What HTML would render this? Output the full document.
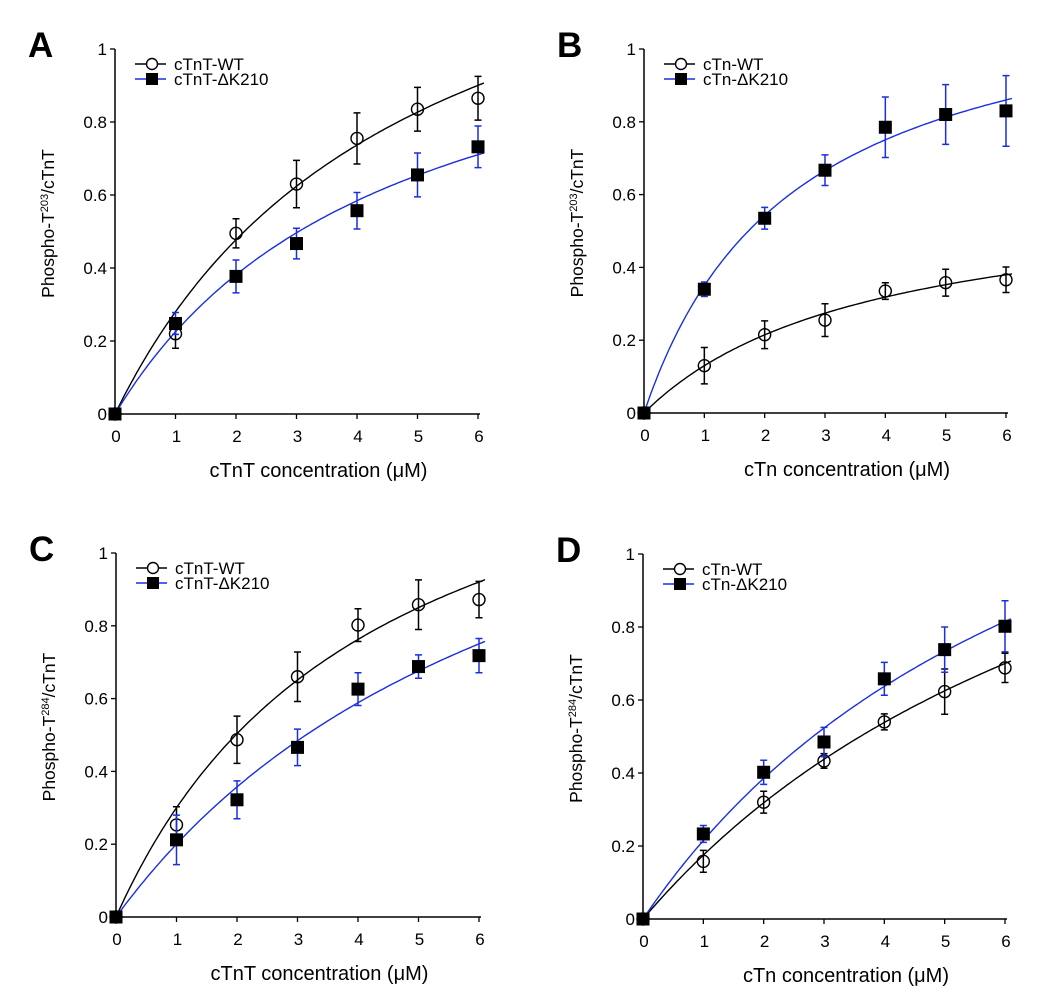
<!DOCTYPE html>
<html><head><meta charset="utf-8"><style>
body{margin:0;background:#fff}
svg{display:block;font-family:"Liberation Sans",Arial,sans-serif}
</style></head><body>
<svg id="fig" width="1050" height="1004" viewBox="0 0 1050 1004"></svg>
<script>
const xTicks=[0,1,2,3,4,5,6];
const yTicks=[0,0.2,0.4,0.6,0.8,1];
const yTickLabels=["0","0.2","0.4","0.6","0.8","1"];
const concentrations=[0,1,2,3,4,5,6];
// panel A
const aWT=[0,0.22,0.495,0.63,0.755,0.835,0.865];
const aWTerr=[0,0.04,0.04,0.065,0.07,0.06,0.06];
const aMut=[0,0.248,0.377,0.467,0.557,0.655,0.732];
const aMutErr=[0,0.03,0.045,0.042,0.05,0.06,0.057];
const aFitWT=[1.616,4.77]; const aFitMut=[1.249,4.55];
// panel B
const bWT=[0,0.13,0.215,0.255,0.335,0.358,0.366];
const bWTerr=[0,0.05,0.038,0.045,0.023,0.037,0.035];
const bMut=[0,0.34,0.535,0.667,0.785,0.82,0.83];
const bMutErr=[0,0.02,0.03,0.042,0.083,0.082,0.097];
const bFitWT=[0.617,3.75]; const bFitMut=[1.214,2.47];
// panel C
const cWT=[0,0.253,0.487,0.66,0.802,0.858,0.872];
const cWTerr=[0,0.05,0.065,0.068,0.045,0.068,0.05];
const cMut=[0,0.212,0.322,0.466,0.626,0.688,0.718];
const cMutErr=[0,0.068,0.052,0.05,0.045,0.032,0.047];
const cFitWT=[1.569,4.23]; const cFitMut=[1.667,7.33];
// panel D
const dWT=[0,0.158,0.32,0.433,0.54,0.623,0.688];
const dWTerr=[0,0.03,0.03,0.02,0.022,0.062,0.04];
const dMut=[0,0.233,0.402,0.485,0.658,0.738,0.802];
const dMutErr=[0,0.023,0.033,0.04,0.045,0.062,0.07];
const dFitWT=[1.75,9]; const dFitMut=[1.845,7.58];

const NS="http://www.w3.org/2000/svg";
const svg=document.getElementById('fig');
function mk(tag,attrs,parent,text){const e=document.createElementNS(NS,tag);for(const k in attrs)e.setAttribute(k,attrs[k]);if(text!==undefined)e.textContent=text;(parent||svg).appendChild(e);return e;}

const panels=[
 {id:'a',letter:'A',x0:115,x6:478,y0:414,y1:49,xt:'cTnT concentration (',sup:'203',leg:['cTnT-WT','cTnT-\u0394K210'],wt:aWT,we:aWTerr,mu:aMut,me:aMutErr,fw:aFitWT,fm:aFitMut},
 {id:'b',letter:'B',x0:644,x6:1006,y0:413,y1:49,xt:'cTn concentration (',sup:'203',leg:['cTn-WT','cTn-\u0394K210'],wt:bWT,we:bWTerr,mu:bMut,me:bMutErr,fw:bFitWT,fm:bFitMut},
 {id:'c',letter:'C',x0:116,x6:479,y0:917,y1:553,xt:'cTnT concentration (',sup:'284',leg:['cTnT-WT','cTnT-\u0394K210'],wt:cWT,we:cWTerr,mu:cMut,me:cMutErr,fw:cFitWT,fm:cFitMut},
 {id:'d',letter:'D',x0:643,x6:1005,y0:919,y1:554,xt:'cTn concentration (',sup:'284',leg:['cTn-WT','cTn-\u0394K210'],wt:dWT,we:dWTerr,mu:dMut,me:dMutErr,fw:dFitWT,fm:dFitMut}
];

panels.forEach(p=>{
 const g=mk('g',{});
 
 
 const X=v=>p.x0+(p.x6-p.x0)*v/6;
 const Y=v=>p.y0-(p.y0-p.y1)*v;
 const L=mk('text',{x:p.x0-87,y:p.y1+8,'font-size':35,'font-weight':'bold'},g,p.letter);
 
 
 const ax=mk('path',{d:`M${p.x0},${p.y1}V${p.y0}H${p.x6+2}`,stroke:'#000','stroke-width':1.5,fill:'none'},g);
 
 
 xTicks.forEach(t=>{
  mk('line',{x1:X(t),x2:X(t),y1:p.y0,y2:p.y0+5,stroke:'#000','stroke-width':1.3},g);
  const tl=mk('text',{x:X(t)+1,y:p.y0+28,'font-size':17,'text-anchor':'middle'},g,String(t));
  
  
 });
 yTicks.forEach((t,i)=>{
  mk('line',{x1:p.x0-5,x2:p.x0,y1:Y(t),y2:Y(t),stroke:'#000','stroke-width':1.3},g);
  const tl=mk('text',{x:p.x0-8,y:Y(t)+6,'font-size':17,'text-anchor':'end'},g,yTickLabels[i]);
  
  
 });
 const xt=mk('text',{x:(p.x0+p.x6)/2+22,y:p.y0+63,'font-size':20,'text-anchor':'middle'},g);
 
 
 xt.textContent=p.xt+'\u03bcM)';
 const yt=mk('text',{transform:`translate(${p.x0-61},${(p.y0+p.y1)/2-8}) rotate(-90)`,'font-size':17.5,'text-anchor':'middle'},g);
 
 
 mk('tspan',{},yt,'Phospho-T');
 mk('tspan',{'font-size':11,dy:-6},yt,p.sup);
 mk('tspan',{dy:6},yt,'/cTnT');
 const series=[
  {name:'wt',vals:p.wt,err:p.we,fit:p.fw,color:'#000',open:true,label:p.leg[0]},
  {name:'mutant',vals:p.mu,err:p.me,fit:p.fm,color:'#1a2fe0',open:false,label:p.leg[1]}
 ];
 series.forEach((s,si)=>{
  let d='';
  for(let i=0;i<=120;i++){const x=6.1*i/120;const y=s.fit[0]*x/(s.fit[1]+x);d+=(i?'L':'M')+X(x).toFixed(1)+','+Y(y).toFixed(1);}
  const c=mk('path',{d,stroke:s.color,'stroke-width':1.4,fill:'none'},g);
  
  
 });
 series.forEach(s=>{
  concentrations.forEach((cx,i)=>{
   const v=s.vals[i],e=s.err[i],px=X(cx),py=Y(v);
   if(e>0){
    const eb=mk('path',{d:`M${px},${Y(v+e)}V${Y(v-e)}M${px-3.5},${Y(v+e)}h7M${px-3.5},${Y(v-e)}h7`,stroke:s.color,'stroke-width':1.5,fill:'none'},g);
    
    
   }
   let m;
   if(s.open) m=mk('circle',{cx:px,cy:py,r:6,fill:'none',stroke:'#000','stroke-width':1.4},g);
   else m=mk('rect',{x:px-6.5,y:py-6.5,width:13,height:13,fill:'#000'},g);
   
   
  });
 });
 series.forEach((s,si)=>{
  const ly=p.y1+15+si*15, lx=p.x0+20;
  const lg=mk('g',{},g);
  
  
  mk('line',{x1:lx,x2:lx+31,y1:ly,y2:ly,stroke:s.color,'stroke-width':1.4},lg);
  if(s.open) mk('circle',{cx:lx+17,cy:ly,r:5.5,fill:'#fff',stroke:'#000','stroke-width':1.4},lg);
  else mk('rect',{x:lx+11,y:ly-6,width:12,height:12,fill:'#000'},lg);
  mk('text',{x:lx+39,y:ly+6,'font-size':17},lg,s.label);
 });
});
</script>
</body></html>
